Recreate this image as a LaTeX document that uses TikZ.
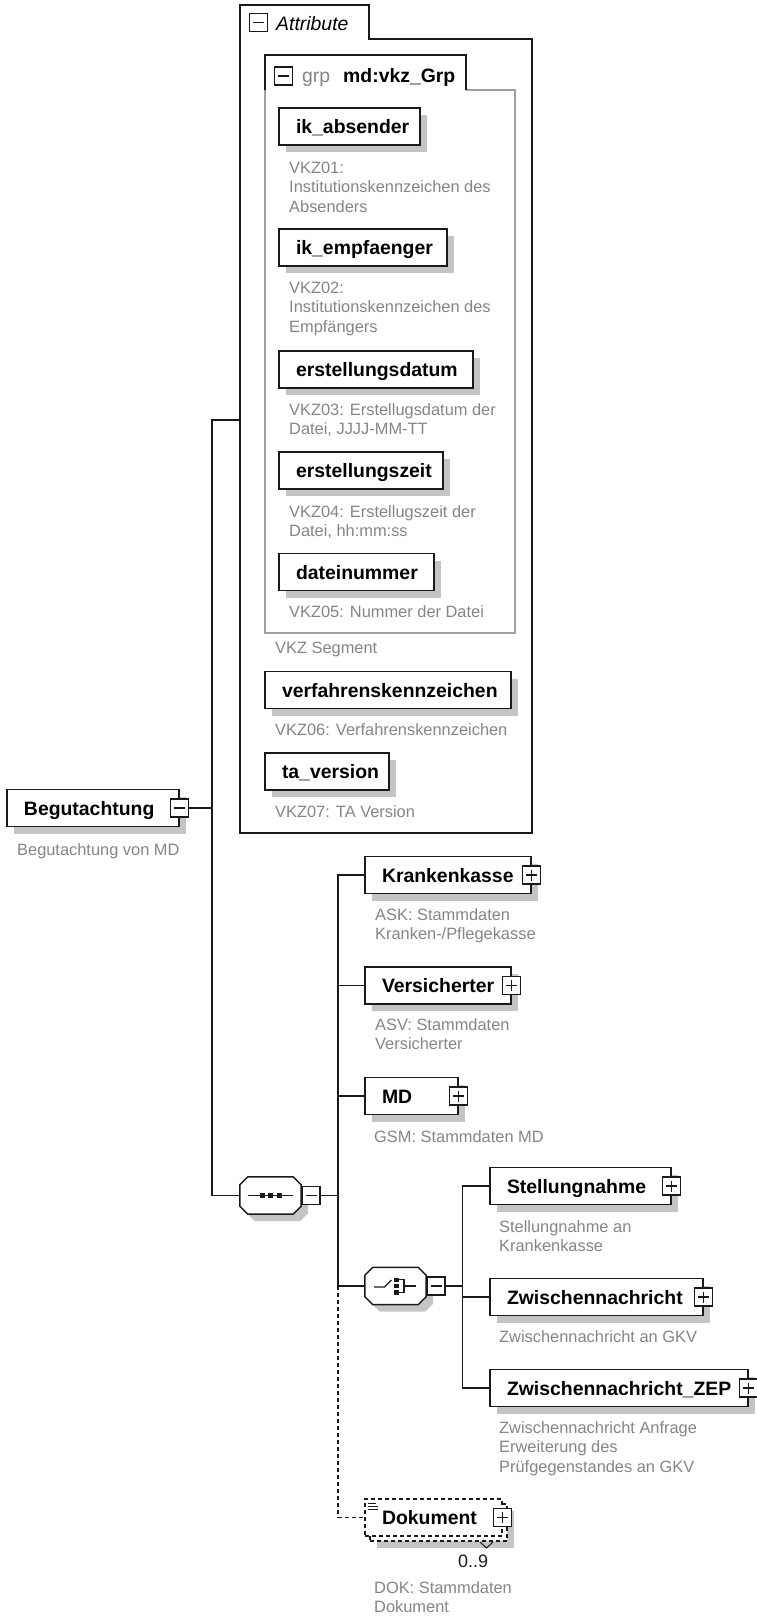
\documentclass[tikz,border=0pt]{standalone}
\usepackage{fontspec}
\setmainfont{Liberation Sans}
\usetikzlibrary{shadows}
\definecolor{descgray}{HTML}{858585}
\definecolor{grpgray}{HTML}{A0A0A0}
\definecolor{shadowgray}{HTML}{C4C4C4}
\definecolor{linecol}{HTML}{1A1A1A}
\newcommand\lab{\fontsize{19.4pt}{23pt}\selectfont\bfseries}
\newcommand\labit{\fontsize{19.4pt}{23pt}\selectfont\itshape}
\newcommand\labrm{\fontsize{19.4pt}{23pt}\selectfont}
\newcommand\dsc{\fontsize{16.4pt}{19.7pt}\selectfont}
\newcommand\elemtext[2]{\makebox[#1pt][l]{\hspace{17pt}#2}}
\newcommand\dlines[1]{\begin{tabular}[t]{@{}l@{}}#1\end{tabular}}
\newcommand\octa[1]{([xshift=8pt]#1.north west) -- ([xshift=-8pt]#1.north east) -- ([yshift=-8pt]#1.north east) -- ([yshift=8pt]#1.south east) -- ([xshift=-8pt]#1.south east) -- ([xshift=8pt]#1.south west) -- ([yshift=8pt]#1.south west) -- ([yshift=-8pt]#1.north west) -- cycle}
\begin{document}
\begin{tikzpicture}[x=1pt, y=-1pt,
  conn/.style={draw=linecol, line width=1.5pt},
  dashconn/.style={conn, dash pattern=on 4pt off 3pt},
  grpline/.style={draw=grpgray, line width=1.5pt},
  elembase/.style={draw=linecol, line width=1.5pt, fill=white, inner xsep=0pt, inner ysep=0pt,
    minimum height=37pt, text height=14pt, text depth=0pt, font=\lab},
  elem/.style={elembase, drop shadow={shadow xshift=7pt, shadow yshift=-7pt, fill=shadowgray, opacity=1}},
  desc/.style={anchor=base west, inner sep=0pt, font=\dsc, text=descgray},
  txt/.style={anchor=base west, inner sep=0pt},
  symbox/.style={inner sep=0pt, minimum width=61pt, minimum height=37pt},
  pmbox/.style={draw=linecol, line width=1.2pt, fill=white, minimum size=18pt, inner sep=0pt},
  minusbox/.style={pmbox, path picture={\draw[linecol, line width=1.2pt]
      ([xshift=3.5pt]path picture bounding box.west) -- ([xshift=-3.5pt]path picture bounding box.east);}},
  plusbox/.style={pmbox, path picture={\draw[linecol, line width=1.2pt]
      ([xshift=3.5pt]path picture bounding box.west) -- ([xshift=-3.5pt]path picture bounding box.east)
      ([yshift=-3.5pt]path picture bounding box.north) -- ([yshift=3.5pt]path picture bounding box.south);}},
  icon/.style={linecol, line width=1.3pt}
]
\useasboundingbox (0,0) rectangle (756,1619);

% ---------- Attribute container ----------
\draw[conn] (240,833) -- (240,5) -- (369,5) -- (369,39) -- (532,39) -- (532,833) -- cycle;
\node[minusbox] (attrpm) at (258.5,22.5) {};
\node[txt, font=\labit] (attrlbl) at (276,30.7) {Attribute};

% ---------- group md:vkz_Grp ----------
\draw[grpline] (265,90) -- (265,633) -- (515,633) -- (515,90) -- (466,90);
\draw[conn] (265,90) -- (265,55) -- (466,55) -- (466,90);
\node[minusbox] (grppm) at (283.5,76) {};
\node[txt, font=\labrm, text=descgray] (grplbl) at (302,82) {grp};
\node[txt, font=\lab] (grpname) at (343,82) {md:vkz\_Grp};

\node[elem] (ikabs) at (349.5,126.5) {\elemtext{141}{ik\_absender}};
\node[desc] (ikabsd) at (289,173) {\dlines{VKZ01:\\Institutionskennzeichen des\\Absenders}};
\node[elem] (ikemp) at (363,247.5) {\elemtext{168}{ik\_empfaenger}};
\node[desc] (ikempd) at (289,293) {\dlines{VKZ02:\\Institutionskennzeichen des\\Empfängers}};
\node[elem] (erd) at (376,369.5) {\elemtext{194}{erstellungsdatum}};
\node[desc] (erdd) at (289,415) {\dlines{VKZ03: Erstellugsdatum der\\Datei, JJJJ-MM-TT}};
\node[elem] (erz) at (361,470.5) {\elemtext{164}{erstellungszeit}};
\node[desc] (erzd) at (289,517) {\dlines{VKZ04: Erstellugszeit der\\Datei, hh:mm:ss}};
\node[elem] (dnr) at (356.5,572) {\elemtext{155}{dateinummer}};
\node[desc] (dnrd) at (289,617) {VKZ05: Nummer der Datei};
\node[desc] (vkzseg) at (275,653) {VKZ Segment};
\node[elem] (vfk) at (388,690) {\elemtext{246}{verfahrenskennzeichen}};
\node[desc] (vfkd) at (275,735) {VKZ06: Verfahrenskennzeichen};
\node[elem] (tav) at (327,771.5) {\elemtext{124}{ta\_version}};
\node[desc] (tavd) at (275,817) {VKZ07: TA Version};

% ---------- root ----------
\node[elem] (beg) at (93,808) {\elemtext{172}{Begutachtung}};
\node[minusbox] (begpm) at (beg.east) {};
\node[desc] (begd) at (17,855) {Begutachtung von MD};

% ---------- sequence ----------
\node[symbox] (seq) at (270.5,1195.5) {};
\fill[shadowgray, transform canvas={shift={(7pt,-7pt)}}] \octa{seq};
\draw[conn, fill=white] \octa{seq};
\draw[icon] ([xshift=-22.5pt]seq.center) -- ([xshift=22.5pt]seq.center);
\fill[linecol] ([xshift=-11pt,yshift=-2.5pt]seq.center) rectangle ([xshift=-6pt,yshift=2.5pt]seq.center);
\fill[linecol] ([xshift=-2.5pt,yshift=-2.5pt]seq.center) rectangle ([xshift=2.5pt,yshift=2.5pt]seq.center);
\fill[linecol] ([xshift=6pt,yshift=-2.5pt]seq.center) rectangle ([xshift=11pt,yshift=2.5pt]seq.center);
\node[minusbox] (seqpm) at (311,1195.5) {};

\coordinate (attrin) at (240,420);
\coordinate (tr1) at (212,420);
\draw[conn] (begpm.east) -- (begpm.east -| tr1);
\draw[conn] (attrin) -- (tr1) -- (tr1 |- seq.west) -- (seq.west);

% ---------- sequence children ----------
\node[elem] (kk) at (448,875) {\elemtext{166}{Krankenkasse}};
\node[plusbox] (kkpm) at (kk.east) {};
\node[desc] (kkd) at (375,920) {\dlines{ASK: Stammdaten\\Kranken-/Pflegekasse}};
\node[elem] (vs) at (438,985.5) {\elemtext{146}{Versicherter}};
\node[plusbox] (vspm) at (vs.east) {};
\node[desc] (vsd) at (375,1030) {\dlines{ASV: Stammdaten\\Versicherter}};
\node[elem] (md) at (411.5,1096) {\elemtext{93}{MD}};
\node[plusbox] (mdpm) at (md.east) {};
\node[desc] (mdd) at (374,1142) {GSM: Stammdaten MD};

% ---------- choice ----------
\node[symbox] (ch) at (395.5,1286) {};
\fill[shadowgray, transform canvas={shift={(7pt,-7pt)}}] \octa{ch};
\draw[conn, fill=white] \octa{ch};
\draw[icon] ([xshift=-21.5pt,yshift=-1pt]ch.center) -- ([xshift=-11pt,yshift=-1pt]ch.center) -- ([xshift=-4pt,yshift=6pt]ch.center);
\fill[linecol] ([xshift=-1.5pt,yshift=8.5pt]ch.center) rectangle ([xshift=3pt,yshift=4pt]ch.center);
\fill[linecol] ([xshift=-1.5pt,yshift=2.3pt]ch.center) rectangle ([xshift=3pt,yshift=-2.3pt]ch.center);
\fill[linecol] ([xshift=-1.5pt,yshift=-4pt]ch.center) rectangle ([xshift=3pt,yshift=-8.5pt]ch.center);
\draw[icon] ([xshift=3pt,yshift=6.2pt]ch.center) -- ([xshift=8.5pt,yshift=6.2pt]ch.center) -- ([xshift=8.5pt,yshift=-6.2pt]ch.center) -- ([xshift=3pt,yshift=-6.2pt]ch.center);
\draw[icon] ([xshift=8.5pt]ch.center) -- ([xshift=20.5pt]ch.center);
\node[minusbox] (chpm) at (436,1286) {};

\coordinate (s2) at (338,874);
\draw[conn] (kk.west) -- (kk.west -| s2) -- (ch.west -| s2) -- (ch.west);
\draw[conn] (vs.west) -- (vs.west -| s2);
\draw[conn] (md.west) -- (md.west -| s2);
\draw[conn] (seqpm.east) -- (seqpm.east -| s2);

% ---------- choice children ----------
\node[elem] (st) at (580.5,1186) {\elemtext{181}{Stellungnahme}};
\node[plusbox] (stpm) at (st.east) {};
\node[desc] (std) at (499,1232) {\dlines{Stellungnahme an\\Krankenkasse}};
\node[elem] (zw) at (596.5,1297) {\elemtext{213}{Zwischennachricht}};
\node[plusbox] (zwpm) at (zw.east) {};
\node[desc] (zwd) at (499,1342) {Zwischennachricht an GKV};
\node[elem] (zep) at (619,1388) {\elemtext{258}{Zwischennachricht\_ZEP}};
\node[plusbox] (zeppm) at (zep.east) {};
\node[desc] (zepd) at (499,1433) {\dlines{Zwischennachricht Anfrage\\Erweiterung des\\Prüfgegenstandes an GKV}};

\coordinate (s3) at (462.5,1186);
\draw[conn] (st.west) -- (st.west -| s3) -- (zep.west -| s3) -- (zep.west);
\draw[conn] (zw.west) -- (zw.west -| s3);
\draw[conn] (chpm.east) -- (chpm.east -| s3);

% ---------- Dokument (optional, multiple) ----------
\node[elem, dash pattern=on 4pt off 3pt, minimum width=137pt] (dokback) at (438.5,1522.5) {};
\node[elembase, dash pattern=on 4pt off 3pt] (dok) at (433.5,1517.5) {\elemtext{137}{Dokument}};
\node[plusbox] (dokpm) at (dok.east) {};
\draw[linecol, line width=1pt] (368,1503) -- (376,1503) (368,1506) -- (378,1506) (368,1509) -- (378,1509);
\draw[linecol, line width=1pt] (480,1542) -- (486.5,1548) -- (493,1542);
\node[txt, font=\fontsize{18pt}{21pt}\selectfont, text=linecol] (dokmult) at (458,1567) {0..9};
\node[desc] (dokd) at (374,1593) {\dlines{DOK: Stammdaten\\Dokument}};
\draw[dashconn] (ch.west -| s2) -- (s2 |- dok.west) -- (dok.west);
\end{tikzpicture}
\end{document}
